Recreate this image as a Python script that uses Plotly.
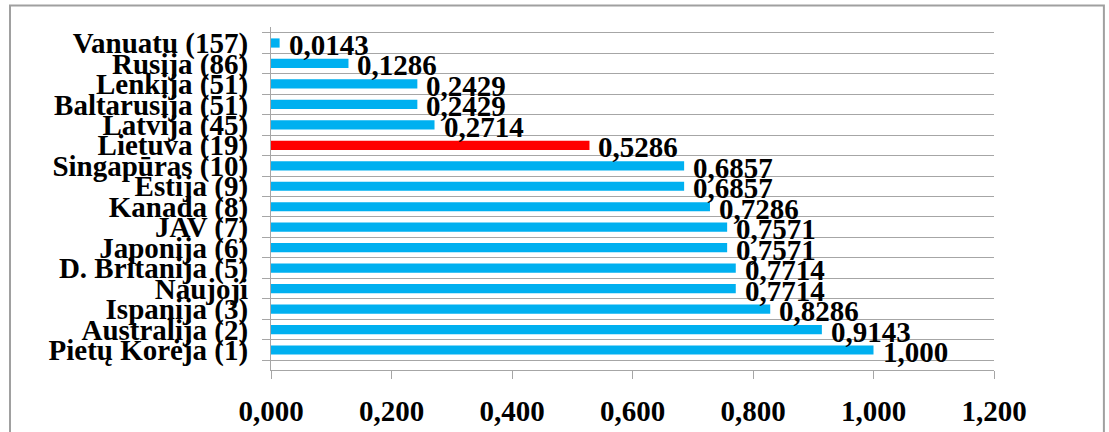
import plotly.graph_objects as go

# Countries (rank in parentheses), listed bottom to top
countries = [
    "Pietų Korėja (1)", "Australija (2)", "Ispanija (3)", "Naujoji",
    "D. Britanija (5)", "Japonija (6)", "JAV (7)", "Kanada (8)",
    "Estija (9)", "Singapūras (10)", "Lietuva (19)", "Latvija (45)",
    "Baltarusija (51)", "Lenkija (51)", "Rusija (86)", "Vanuatu (157)",
]
value_labels = [
    "1,000", "0,9143", "0,8286", "0,7714",
    "0,7714", "0,7571", "0,7571", "0,7286",
    "0,6857", "0,6857", "0,5286", "0,2714",
    "0,2429", "0,2429", "0,1286", "0,0143",
]
values = [float(s.replace(",", ".")) for s in value_labels]

highlight = "Lietuva (19)"
colors = ["#FF0000" if c == highlight else "#00B0F0" for c in countries]

FONT = "Liberation Serif, Times New Roman, serif"
GRID = "#A6A6A6"
LABEL_FONT = dict(family=FONT, size=29, color="#000000", weight="bold")

fig = go.Figure(
    go.Bar(
        x=values,
        y=countries,
        orientation="h",
        marker=dict(color=colors, line=dict(width=0)),
        width=0.45,
        hoverinfo="x+y",
    )
)

# value labels just past the end of each bar
for c, v, lab in zip(countries, values, value_labels):
    fig.add_annotation(
        x=v, y=c, xref="x", yref="y",
        text=lab, showarrow=False,
        xanchor="left", yanchor="middle",
        xshift=7, yshift=-2,
        font=LABEL_FONT,
    )

fig.update_layout(
    width=1109,
    height=432,
    margin=dict(l=271, r=115, t=27, b=62, autoexpand=False),
    paper_bgcolor="white",
    plot_bgcolor="white",
    separators=",.",
    showlegend=False,
    font=dict(family=FONT, color="#000000"),
    xaxis=dict(
        range=[0, 1.2],
        dtick=0.2,
        tick0=0,
        tickformat=".3f",
        showgrid=False,
        zeroline=False,
        showline=True,
        linecolor=GRID,
        linewidth=1,
        ticks="outside",
        ticklen=8,
        tickcolor=GRID,
        ticklabelstandoff=7,
        tickfont=dict(family=FONT, size=29, weight="bold"),
        automargin=False,
        fixedrange=True,
    ),
    yaxis=dict(
        type="category",
        tickmode="linear",
        dtick=1,
        tickson="boundaries",
        showgrid=True,
        gridcolor=GRID,
        gridwidth=1,
        showline=True,
        linecolor=GRID,
        linewidth=1,
        ticks="outside",
        ticklen=8,
        tickcolor=GRID,
        ticklabelstandoff=16,
        tickfont=dict(family=FONT, size=29, weight="bold"),
        automargin=False,
        fixedrange=True,
    ),
    shapes=[
        # chart frame (left, top and right edges; bottom lies below the page)
        dict(
            type="rect", xref="paper", yref="paper",
            x0=-0.361, x1=1.152, y0=-0.25, y1=1.063,
            line=dict(color="#A0A0A0", width=2),
            fillcolor="rgba(0,0,0,0)", layer="below",
        )
    ],
)

fig.write_html("out.html")
